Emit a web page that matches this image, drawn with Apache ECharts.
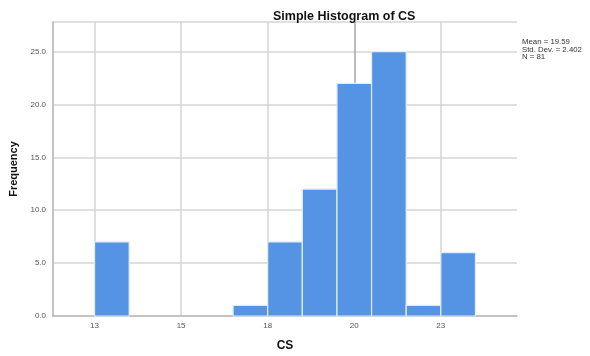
<!DOCTYPE html>
<html>
<head>
<meta charset="utf-8">
<script src="https://cdn.jsdelivr.net/npm/echarts@6/dist/echarts.min.js"></script>
<style>
  html, body { margin: 0; padding: 0; background: #fff; }
  #chart { width: 590px; height: 356px; }
</style>
</head>
<body>
<div id="chart"></div>
<script>
// Histogram of CS: bin centres (width 1) and their counts
const binCenters = [13, 14, 15, 16, 17, 18, 19, 20, 21, 22, 23];
const counts     = [7, 0, 0, 0, 1, 7, 12, 22, 25, 1, 6];

// x-axis tick positions and the labels printed under them
const xTickValues = [12.5, 15, 17.5, 20, 22.5];
const xTickLabels = ['13', '15', '18', '20', '23'];

// summary statistics from the binned data
const n = counts.reduce((a, b) => a + b, 0);
const mean = binCenters.reduce((s, x, i) => s + x * counts[i], 0) / n;
const variance = binCenters.reduce((s, x, i) => s + counts[i] * (x - mean) ** 2, 0) / (n - 1);
const sd = Math.sqrt(variance);
const statLines = [
  'Mean = ' + mean.toFixed(2),
  'Std. Dev. = ' + sd.toFixed(3),
  'N = ' + n
];

const font = 'Liberation Sans, Arial, sans-serif';
const chart = echarts.init(document.getElementById('chart'), null, { renderer: 'canvas' });

chart.setOption({
  backgroundColor: '#ffffff',
  animation: false,
  title: {
    text: 'Simple Histogram of CS',
    left: 268, top: 5,
    textStyle: { fontFamily: font, fontSize: 12.5, fontWeight: 'bold', color: '#111' }
  },
  grid: { left: 53, right: 73, top: 22, bottom: 40, containLabel: false, outerBoundsMode: 'none' },
  xAxis: {
    type: 'value',
    min: 11.3, max: 24.7,
    name: 'CS',
    nameLocation: 'middle',
    nameGap: 24,
    nameTextStyle: { fontFamily: font, fontSize: 12, fontWeight: 'bold', color: '#111' },
    axisLine: { show: true, onZero: false, lineStyle: { color: '#b8b8b8', width: 1.5 } },
    axisTick: { show: false, customValues: xTickValues },
    axisLabel: {
      customValues: xTickValues,
      formatter: v => xTickLabels[xTickValues.indexOf(v)],
      fontFamily: font, fontSize: 8, color: '#555', margin: 6
    },
    splitLine: {
      show: true,
      lineStyle: { color: ['#d4d4d4', '#d4d4d4', '#d4d4d4', '#a6a6a6', '#d4d4d4'], width: 1.5 }
    }
  },
  yAxis: {
    type: 'value',
    min: 0, max: 27.8, interval: 5,
    name: 'Frequency',
    nameLocation: 'middle',
    nameGap: 33,
    nameTextStyle: { fontFamily: font, fontSize: 11, fontWeight: 'bold', color: '#111' },
    axisLine: { show: true, lineStyle: { color: '#c4c4c4', width: 2 } },
    axisTick: { show: false },
    axisLabel: {
      showMaxLabel: false,
      formatter: v => v.toFixed(1),
      fontFamily: font, fontSize: 8, color: '#555', margin: 7
    },
    splitLine: { show: true, lineStyle: { color: '#d6d6d6', width: 1.5 } }
  },
  graphic: [{
    type: 'text',
    left: 522, top: 38,
    style: {
      text: statLines.join('\n'),
      font: '7.8px ' + font,
      lineHeight: 7.5,
      fill: '#333'
    }
  }],
  series: [{
    type: 'custom',
    data: binCenters.map((x, i) => [x, counts[i]]),
    renderItem: (params, api) => {
      const x = api.value(0), y = api.value(1);
      if (!y) return null;
      const p0 = api.coord([x - 0.5, y]);
      const p1 = api.coord([x + 0.5, 0]);
      return {
        type: 'rect',
        shape: { x: p0[0], y: p0[1], width: p1[0] - p0[0], height: p1[1] - p0[1] },
        style: { fill: '#5594e4', stroke: '#e2ecf9', lineWidth: 1.2 }
      };
    }
  }]
});
</script>
</body>
</html>
